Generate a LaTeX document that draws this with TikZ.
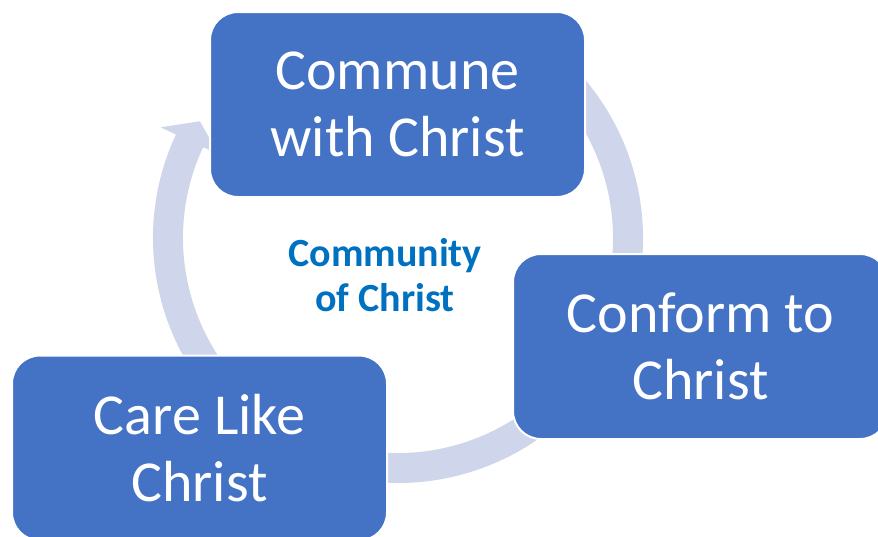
\documentclass[tikz,border=0pt]{standalone}
\usepackage{fontspec}
\setmainfont{Carlito}
\definecolor{boxblue}{HTML}{4472C4}
\definecolor{ringcol}{HTML}{CFD5EA}
\definecolor{txtblue}{HTML}{0070C0}
\begin{document}
\begin{tikzpicture}[x=1pt,y=-1pt,
  stepbox/.style={draw=white, line width=2pt, fill=boxblue, rounded corners=28pt,
    minimum width=375pt, minimum height=185pt, text=white, align=center,
    font=\fontsize{58}{67}\selectfont, inner sep=0pt},
  centertext/.style={text=txtblue, align=center, font=\fontsize{40}{45}\selectfont\bfseries}]
\useasboundingbox (0,0) rectangle (878,536);
\begin{scope}[shift={(398,238)}]
\fill[ringcol] (-60:245) arc[start angle=-60, end angle=205, radius=245]
  -- (205:262) -- (210.5:230) -- (205:198) -- (205:215)
  arc[start angle=205, end angle=-60, radius=215] -- cycle;
\end{scope}
\node[stepbox] (commune) at (397.5,104.5) {Commune\\with Christ};
\node[stepbox] (conform) at (700.5,346.5) {Conform to\\Christ};
\node[stepbox] (care) at (199.5,448) {Care Like\\Christ};
\node[centertext] (center) at (385,275) {Community\\of Christ};
\end{tikzpicture}
\end{document}
